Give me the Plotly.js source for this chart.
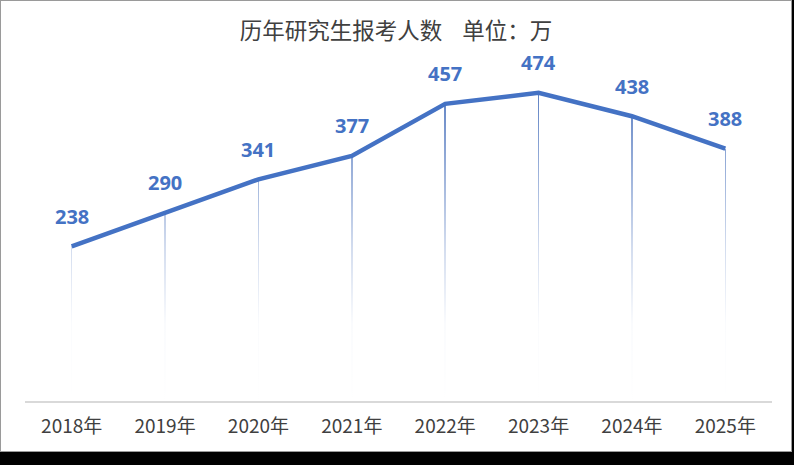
<!DOCTYPE html>
<html>
<head>
<meta charset="utf-8">
<script src="https://cdn.plot.ly/plotly-3.0.1.min.js"></script>
<style>
  html, body { margin: 0; padding: 0; background: #000; width: 794px; height: 465px; overflow: hidden; }
  #frame { position: absolute; left: 0; top: 0; width: 790px; height: 450px; border: 1px solid #9a9a9a; background: #fff; }
  #chart { width: 790px; height: 450px; }
</style>
</head>
<body>
<div id="frame"><div id="chart"></div></div>
<script>
const years = ["2018年", "2019年", "2020年", "2021年", "2022年", "2023年", "2024年", "2025年"];
const applicants = [238, 290, 341, 377, 457, 474, 438, 388];
const titleText = "历年研究生报考人数\u00a0\u00a0\u00a0\u00a0单位：万";

const lineColor = "#4472C4";
const labelColor = "#4472C4";
const maxVal = Math.max(...applicants);

const dropLines = {
  type: "bar",
  x: years,
  y: applicants,
  width: 0.017,
  marker: { color: "#5f82c4", line: { width: 0 } },
  hoverinfo: "skip",
  showlegend: false
};

// white-to-transparent vertical gradient laid over the drop lines (on a slightly wider twin axis so it covers the end lines)
const fadeOverlay = {
  type: "scatter",
  mode: "lines",
  x: years,
  y: applicants,
  xaxis: "x2",
  line: { width: 0, color: "rgba(0,0,0,0)" },
  fill: "tozeroy",
  fillgradient: {
    type: "vertical",
    start: 0,
    stop: maxVal,
    colorscale: [
      [0, "rgba(255,255,255,1)"],
      [0.25, "rgba(255,255,255,0.97)"],
      [0.5, "rgba(255,255,255,0.72)"],
      [0.8, "rgba(255,255,255,0.3)"],
      [1, "rgba(255,255,255,0)"]
    ]
  },
  hoverinfo: "skip",
  showlegend: false
};

const mainLine = {
  type: "scatter",
  mode: "lines",
  x: years,
  y: applicants,
  xaxis: "x3",
  line: { color: lineColor, width: 4.5 },
  showlegend: false
};

const annotations = years.map((yr, i) => ({
  x: yr,
  y: applicants[i],
  xref: "x",
  yref: "y",
  text: String(applicants[i]),
  showarrow: false,
  yanchor: "middle",
  yshift: 30,
  font: { family: "Open Sans, Noto Sans, sans-serif", size: 20, color: labelColor, weight: "bold" }
}));

const layout = {
  width: 790,
  height: 450,
  margin: { l: 24, r: 19, t: 59, b: 50 },
  paper_bgcolor: "#ffffff",
  plot_bgcolor: "#ffffff",
  title: {
    text: titleText,
    x: 0.5,
    xanchor: "center",
    y: 1 - 30 / 450,
    yanchor: "middle",
    font: { family: "Noto Sans CJK SC, sans-serif", size: 22.5, color: "#404040" }
  },
  bargap: 0,
  xaxis: {
    type: "category",
    categoryorder: "array",
    categoryarray: years,
    range: [-0.5, years.length - 0.5],
    showline: true,
    linecolor: "#d9d9d9",
    linewidth: 1.5,
    showgrid: false,
    zeroline: false,
    ticks: "",
    ticklabelstandoff: 8,
    tickfont: { family: "Noto Sans CJK SC, sans-serif", size: 19, color: "#404040" },
    fixedrange: true
  },
  xaxis2: {
    type: "category",
    categoryorder: "array",
    categoryarray: years,
    overlaying: "x",
    range: [-0.48, years.length - 0.52],
    visible: false,
    fixedrange: true
  },
  xaxis3: {
    type: "category",
    categoryorder: "array",
    categoryarray: years,
    overlaying: "x",
    range: [-0.5, years.length - 0.5],
    visible: false,
    fixedrange: true
  },
  yaxis: {
    range: [0, 524.5],
    visible: false,
    showgrid: false,
    zeroline: false,
    fixedrange: true
  },
  annotations: annotations
};

Plotly.newPlot("chart", [dropLines, fadeOverlay, mainLine], layout, { displayModeBar: false, staticPlot: true });
</script>
</body>
</html>
